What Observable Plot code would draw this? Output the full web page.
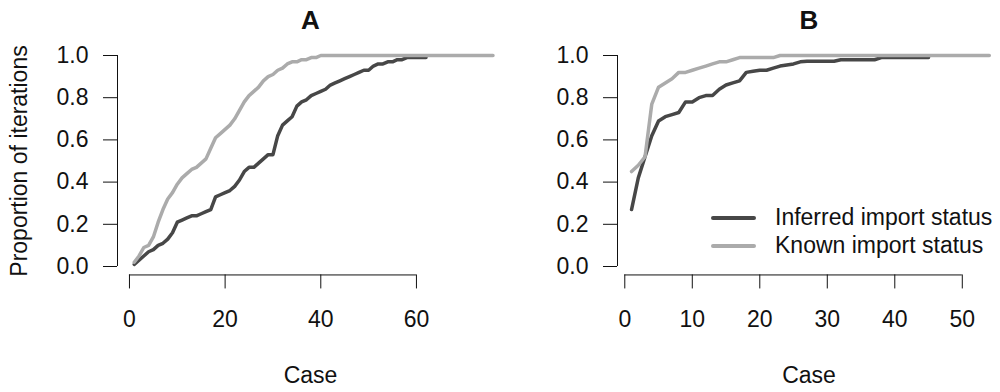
<!DOCTYPE html>
<html>
<head>
<meta charset="utf-8">
<script src="https://cdn.jsdelivr.net/npm/d3@7"></script>
<script src="https://cdn.jsdelivr.net/npm/@observablehq/plot@0.6"></script>
<style>
  html, body { margin: 0; padding: 0; background: #fff; overflow: hidden; }
  #wrap { position: relative; width: 1000px; height: 392px; font-family: "Liberation Sans", Arial, sans-serif; color: #111; }
  .panel { position: absolute; top: 0; }
  .legend { position: absolute; left: 711px; top: 204px; font-size: 23px; line-height: 27.7px; }
  .legend .row { display: flex; align-items: center; white-space: nowrap; }
  .legend .sw { width: 45px; height: 4px; border-radius: 2px; margin-right: 19px; }
</style>
</head>
<body>
<div id="wrap"></div>
<script>
// ---- data ----
const seriesNames = ["Inferred import status", "Known import status"];
const seriesColors = ["#474747", "#ababab"];
const yTicks = [0, 0.2, 0.4, 0.6, 0.8, 1.0];
const xTicksA = [0, 20, 40, 60];
const xTicksB = [0, 10, 20, 30, 40, 50];
const panelTitles = ["A", "B"];
const xLabel = "Case";
const yLabel = "Proportion of iterations";

// Panel A: proportion by case number (case = index + 1)
const inferredA = [0.01, 0.03, 0.05, 0.07, 0.08, 0.10, 0.11, 0.13, 0.16, 0.21,
  0.22, 0.23, 0.24, 0.24, 0.25, 0.26, 0.27, 0.33, 0.34, 0.35,
  0.36, 0.38, 0.41, 0.45, 0.47, 0.47, 0.49, 0.51, 0.53, 0.53,
  0.62, 0.67, 0.69, 0.71, 0.76, 0.78, 0.79, 0.81, 0.82, 0.83,
  0.84, 0.86, 0.87, 0.88, 0.89, 0.90, 0.91, 0.92, 0.93, 0.93,
  0.95, 0.96, 0.96, 0.97, 0.97, 0.98, 0.98, 0.99, 0.99, 0.99,
  0.99, 0.99];
const knownA = [0.02, 0.05, 0.09, 0.10, 0.14, 0.21, 0.27, 0.32, 0.35, 0.39,
  0.42, 0.44, 0.46, 0.47, 0.49, 0.51, 0.56, 0.61, 0.63, 0.65,
  0.67, 0.70, 0.74, 0.78, 0.81, 0.83, 0.85, 0.88, 0.90, 0.91,
  0.93, 0.94, 0.96, 0.97, 0.97, 0.98, 0.98, 0.99, 0.99, 1.0,
  1.0, 1.0, 1.0, 1.0, 1.0, 1.0, 1.0, 1.0, 1.0, 1.0,
  1.0, 1.0, 1.0, 1.0, 1.0, 1.0, 1.0, 1.0, 1.0, 1.0,
  1.0, 1.0, 1.0, 1.0, 1.0, 1.0, 1.0, 1.0, 1.0, 1.0,
  1.0, 1.0, 1.0, 1.0, 1.0, 1.0];

// Panel B
const inferredB = [0.27, 0.42, 0.52, 0.62, 0.69, 0.71, 0.72, 0.73, 0.78, 0.78,
  0.80, 0.81, 0.81, 0.84, 0.86, 0.87, 0.88, 0.92, 0.925, 0.93,
  0.93, 0.94, 0.95, 0.955, 0.96, 0.97, 0.973, 0.973, 0.973, 0.973,
  0.973, 0.98, 0.98, 0.98, 0.98, 0.98, 0.98, 0.99, 0.99, 0.99,
  0.99, 0.99, 0.99, 0.99, 0.99];
const knownB = [0.45, 0.48, 0.52, 0.77, 0.85, 0.87, 0.89, 0.92, 0.92, 0.93,
  0.94, 0.95, 0.96, 0.97, 0.97, 0.98, 0.99, 0.99, 0.99, 0.99,
  0.99, 0.99, 1.0, 1.0, 1.0, 1.0, 1.0, 1.0, 1.0, 1.0,
  1.0, 1.0, 1.0, 1.0, 1.0, 1.0, 1.0, 1.0, 1.0, 1.0,
  1.0, 1.0, 1.0, 1.0, 1.0, 1.0, 1.0, 1.0, 1.0, 1.0,
  1.0, 1.0, 1.0, 1.0];

function toRows(values, status) {
  return values.map((p, i) => ({case: i + 1, p, status}));
}

function makePanel({title, inferred, known, xTicks, xDomain, width, showYLabel}) {
  const rows = [...toRows(inferred, seriesNames[0]), ...toRows(known, seriesNames[1])];
  const marks = [
    Plot.line(rows, {x: "case", y: "p", stroke: "status", z: "status", strokeWidth: 3.5}),
    Plot.ruleX([xDomain[0]], {y1: d3.min(yTicks), y2: d3.max(yTicks), stroke: "#111"}),
    Plot.ruleY([-0.04], {x1: d3.min(xTicks), x2: d3.max(xTicks), stroke: "#111"}),
    Plot.axisY({ticks: yTicks, tickSize: 14, tickPadding: 15, tickFormat: d3.format(".1f"), label: null, stroke: "#111"}),
    Plot.axisX({ticks: xTicks, tickSize: 14, tickPadding: 22, tickFormat: d3.format("d"), label: null, stroke: "#111"}),
    Plot.text([title], {text: d => d, frameAnchor: "top", lineAnchor: "middle", dy: -26, fontSize: 26, fontWeight: "bold"}),
    Plot.text([xLabel], {text: d => d, frameAnchor: "bottom", lineAnchor: "middle", dy: 100.5, fontSize: 23})
  ];
  if (showYLabel) {
    marks.push(Plot.text([yLabel], {text: d => d, frameAnchor: "left", textAnchor: "middle", rotate: -90, lineAnchor: "middle", dx: -98, fontSize: 23}));
  }
  return Plot.plot({
    width, height: 392,
    marginLeft: 117, marginRight: 0, marginTop: 46.56, marginBottom: 117.56,
    style: {fontFamily: '"Liberation Sans", Arial, sans-serif', fontSize: "23px", color: "#111", background: "transparent", overflow: "visible"},
    x: {domain: xDomain, axis: null},
    y: {domain: [-0.04, 1.04], axis: null},
    color: {domain: seriesNames, range: seriesColors},
    marks
  });
}

const wrap = document.getElementById("wrap");
const pA = makePanel({title: panelTitles[0], inferred: inferredA, known: knownA, xTicks: xTicksA, xDomain: [-2.5, 78.2], width: 503, showYLabel: true});
pA.classList.add("panel"); pA.style.left = "0px";
wrap.appendChild(pA);
const pB = makePanel({title: panelTitles[1], inferred: inferredB, known: knownB, xTicks: xTicksB, xDomain: [-1.08, 55.66], width: 500, showYLabel: false});
pB.classList.add("panel"); pB.style.left = "500px";
wrap.appendChild(pB);

const legend = document.createElement("div");
legend.className = "legend";
seriesNames.forEach((name, i) => {
  const row = document.createElement("div");
  row.className = "row";
  const sw = document.createElement("span");
  sw.className = "sw";
  sw.style.background = seriesColors[i];
  const label = document.createElement("span");
  label.textContent = name;
  row.appendChild(sw); row.appendChild(label);
  legend.appendChild(row);
});
wrap.appendChild(legend);
</script>
</body>
</html>
